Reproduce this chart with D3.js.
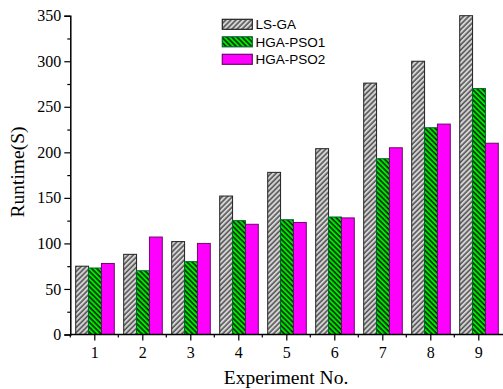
<!DOCTYPE html>
<html><head><meta charset="utf-8">
<script src="https://cdn.jsdelivr.net/npm/d3@7"></script>
<style>body{margin:0;background:#fff}svg{display:block}</style>
</head><body><svg id="c" width="503" height="389"></svg>
<script>
const categories = ["1","2","3","4","5","6","7","8","9"];
const seriesNames = ["LS-GA","HGA-PSO1","HGA-PSO2"];
const lsga    = [75, 88, 102, 152, 178, 204, 276, 300, 350];
const hgapso1 = [73, 70, 80, 125, 126, 129, 193, 227, 270];
const hgapso2 = [78, 107, 100, 121, 123, 128, 205, 231, 210];
const yTicks = [0,50,100,150,200,250,300,350];
const yMinorTicks = [25,75,125,175,225,275,325];
const seriesValues = [lsga, hgapso1, hgapso2];

const svg = d3.select("#c");
const defs = svg.append("defs");
function stripes(id, bg, fg, angle){
  const p = defs.append("pattern").attr("id", id).attr("patternUnits","userSpaceOnUse")
    .attr("width",3.6).attr("height",3.6).attr("patternTransform",`rotate(${angle})`);
  p.append("rect").attr("width",3.6).attr("height",3.6).attr("fill",bg);
  p.append("line").attr("x1",1).attr("y1",0).attr("x2",1).attr("y2",3.6)
    .attr("stroke",fg).attr("stroke-width",1.3);
}
stripes("pGray","#d4d4d4","#3a3a3a",45);
stripes("pGreen","#00e600","#000",-45);
const fills = ["url(#pGray)","url(#pGreen)","#ff00ff"];
const strokes = ["#222","#063","#6a0a6a"];

const x0 = d3.scaleBand().domain(categories).range([70.3, 502.3]);
const x1 = d3.scaleBand().domain(seriesNames).range([5.4, 44]);
const y = d3.scaleLinear().domain([0,350]).range([334.5, 15.7]);

const g = svg.append("g");
categories.forEach((c,i)=>{
  seriesNames.forEach((s,j)=>{
    const v = seriesValues[j][i];
    g.append("rect")
      .attr("x", x0(c)+x1(s)).attr("width", x1.bandwidth())
      .attr("y", y(v)).attr("height", y(0)-y(v))
      .attr("fill", fills[j]).attr("stroke", strokes[j]).attr("stroke-width",1);
  });
});

// Y axis
svg.append("g").attr("transform","translate(70.3,0)")
  .call(d3.axisLeft(y).tickValues(yTicks).tickSize(6).tickPadding(3));
svg.append("g").attr("transform","translate(70.3,0)")
  .call(d3.axisLeft(y).tickValues(yMinorTicks).tickSize(3).tickFormat(""))
  .select(".domain").remove();
// X axis
const xc = d3.scalePoint().domain(categories).range([x0("1")+x0.bandwidth()/2, x0("9")+x0.bandwidth()/2]);
const xAxis = svg.append("g").attr("transform","translate(0,334.5)")
  .call(d3.axisBottom(xc).tickSize(6).tickPadding(6));
const bounds = categories.map(c=>x0(c));
svg.append("g").attr("transform","translate(0,334.5)").selectAll("line").data(bounds).join("line")
  .attr("x1",d=>d).attr("x2",d=>d).attr("y1",0).attr("y2",3).attr("stroke","#000").attr("stroke-width",1.2);
svg.append("line").attr("x1",70.3).attr("x2",503).attr("y1",334.5).attr("y2",334.5).attr("stroke","#000").attr("stroke-width",1.5);

svg.selectAll(".tick text").attr("font-family","Liberation Serif").attr("font-size",16).attr("fill","#000");
svg.selectAll(".tick line").attr("stroke","#000").attr("stroke-width",1.2);
svg.selectAll(".domain").attr("stroke","#000").attr("stroke-width",1.5);
xAxis.select(".domain").remove();

svg.append("text").attr("x",286).attr("y",383.5).attr("text-anchor","middle")
  .attr("font-family","Liberation Serif").attr("font-size",19.5).text("Experiment No.");
svg.append("text").attr("transform","translate(24,172) rotate(-90)").attr("text-anchor","middle")
  .attr("font-family","Liberation Serif").attr("font-size",19.5).text("Runtime(S)");

// Legend
const leg = svg.append("g");
seriesNames.forEach((s,j)=>{
  const yy = 19.3 + j*17.5;
  leg.append("rect").attr("x",222.3).attr("y",yy).attr("width",30).attr("height",10)
    .attr("fill",fills[j]).attr("stroke",strokes[j]).attr("stroke-width",1.2);
  leg.append("text").attr("x",255.5).attr("y",yy+10).attr("font-family","Liberation Sans")
    .attr("font-size",13.5).text(s);
});
</script></body></html>
